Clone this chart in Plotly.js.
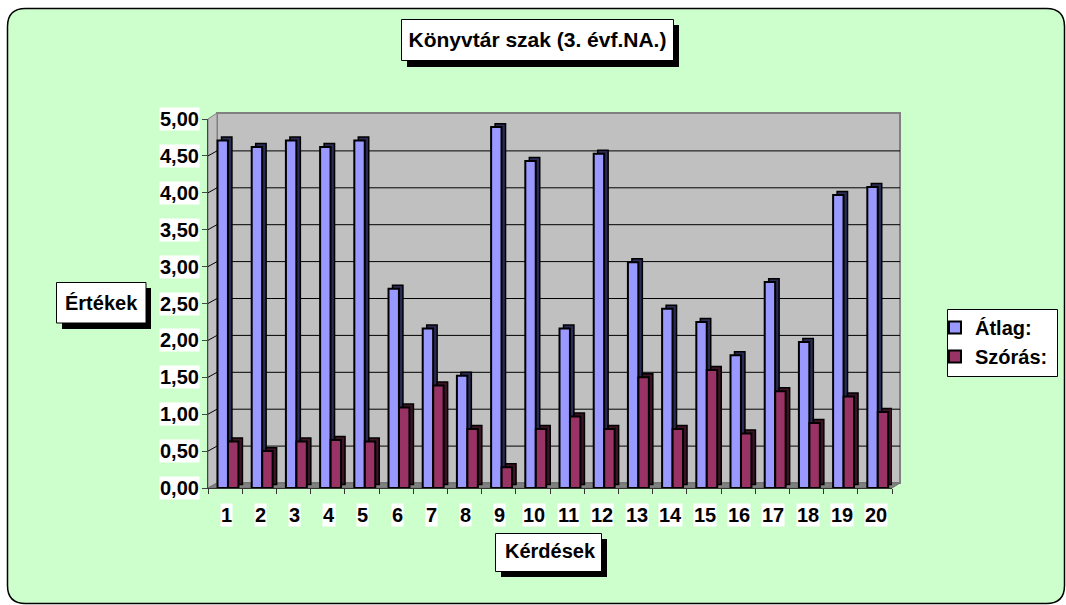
<!DOCTYPE html>
<html>
<head>
<meta charset="utf-8">
<script src="https://cdn.plot.ly/plotly-3.0.1.min.js"></script>
<style>html,body{margin:0;padding:0;background:#fff;}#chart{width:1066px;height:605px;}</style>
</head>
<body>
<div id="chart"></div>
<script>
// ---- data ----
const categories = ['1','2','3','4','5','6','7','8','9','10','11','12','13','14','15','16','17','18','19','20'];
const atlag  = [4.71,4.62,4.71,4.62,4.71,2.70,2.16,1.52,4.89,4.43,2.16,4.53,3.06,2.43,2.25,1.80,2.79,1.98,3.97,4.08];
const szoras = [0.63,0.50,0.63,0.65,0.63,1.09,1.39,0.80,0.28,0.80,0.97,0.80,1.50,0.80,1.60,0.74,1.31,0.88,1.24,1.03];
const yTickVals = [0,0.5,1,1.5,2,2.5,3,3.5,4,4.5,5];
const yTickText = ['0,00','0,50','1,00','1,50','2,00','2,50','3,00','3,50','4,00','4,50','5,00'];
const seriesNames = ['Átlag:','Szórás:'];
const chartTitle = 'Könyvtár szak (3. évf.NA.)';
const xTitle = 'Kérdések';
const yTitle = 'Értékek';

// ---- geometry helpers (pixel -> paper) ----
const PL = 208, PR = 892, PT = 119, PB = 488;
const W = PR - PL, H = PB - PT;
const px = x => (x - PL) / W;
const py = y => (PB - y) / H;
const FONT = {family: 'Arial, Liberation Sans, sans-serif', size: 20, color: '#000'};
const B = t => '<b>' + t + '</b>';

function rect(x0, y0, x1, y1, fill, line, lw, layer) {
  return {type: 'rect', xref: 'paper', yref: 'paper', x0: px(x0), x1: px(x1), y0: py(y1), y1: py(y0),
          fillcolor: fill, line: {color: line, width: lw}, layer: layer || 'below'};
}
function poly(pts, fill, line, lw) {
  const d = pts.map((p, i) => (i ? 'L' : 'M') + px(p[0]) + ',' + py(p[1])).join(' ') + ' Z';
  return {type: 'path', xref: 'paper', yref: 'paper', path: d, fillcolor: fill, line: {color: line, width: lw}, layer: 'below'};
}
function roundRect(x0, y0, x1, y1, r) {
  const P = (x, y) => px(x) + ',' + py(y);
  return 'M' + P(x0 + r, y0) + ' L' + P(x1 - r, y0) + ' Q' + P(x1, y0) + ' ' + P(x1, y0 + r) +
         ' L' + P(x1, y1 - r) + ' Q' + P(x1, y1) + ' ' + P(x1 - r, y1) +
         ' L' + P(x0 + r, y1) + ' Q' + P(x0, y1) + ' ' + P(x0, y1 - r) +
         ' L' + P(x0, y0 + r) + ' Q' + P(x0, y0) + ' ' + P(x0 + r, y0) + ' Z';
}

const shapes = [];
// chart area background with rounded border
shapes.push({type: 'path', xref: 'paper', yref: 'paper', path: roundRect(7.5, 8.5, 1064.5, 603.5, 18),
             fillcolor: '#CCFFCC', line: {color: '#000', width: 1.5}, layer: 'below'});
// back wall, side wall, floor
shapes.push(rect(217, 113, 900, 483, '#C0C0C0', '#808080', 2));
shapes.push(poly([[208, 488], [208, 119], [217, 113], [217, 483]], '#C0C0C0', '#808080', 1));
shapes.push(poly([[208, 488], [892, 488], [900, 483], [217, 483]], '#808080', '#707070', 1));
// gridlines on the back wall and the side wall
yTickVals.forEach(v => {
  if (v <= 0 || v >= 5) return;
  shapes.push({type: 'line', xref: 'paper', x0: px(217), x1: px(900), yref: 'y', ysizemode: 'pixel', yanchor: v,
               y0: 5, y1: 5, line: {color: '#000', width: 1}, layer: 'below'});
  shapes.push({type: 'line', xref: 'paper', x0: px(208), x1: px(217), yref: 'y', ysizemode: 'pixel', yanchor: v,
               y0: 0, y1: 5, line: {color: '#000', width: 1}, layer: 'below'});
});
// title boxes with drop shadows
shapes.push(rect(407, 25, 679, 67, '#000', '#000', 0));
shapes.push(rect(401.5, 19.5, 673.5, 60.5, '#FFFFFF', '#000', 1));
shapes.push(rect(62, 288, 151, 329, '#000', '#000', 0));
shapes.push(rect(56.5, 282.5, 146, 323, '#FFFFFF', '#000', 1));
shapes.push(rect(501, 539, 607, 577, '#000', '#000', 0));
shapes.push(rect(495.5, 533.5, 601.5, 571.5, '#FFFFFF', '#000', 1));
// legend box
shapes.push(rect(947.5, 309.5, 1057.5, 376.5, '#FFFFFF', '#000', 1));

// ---- annotations: tick labels with white boxes, y title ----
const annotations = [];
yTickVals.forEach((v, i) => {
  annotations.push({xref: 'paper', x: px(200), xanchor: 'right', yref: 'y', y: v, yanchor: 'middle',
                    text: B(yTickText[i]), showarrow: false, bgcolor: '#FFFFFF', borderpad: 0, font: FONT});
});
categories.forEach((c, i) => {
  annotations.push({xref: 'x', x: i, xanchor: 'center', xshift: 1, yref: 'paper', y: py(515), yanchor: 'middle',
                    text: B(c), showarrow: false, bgcolor: '#FFFFFF', borderpad: 0, font: FONT});
});
annotations.push({xref: 'paper', x: px(101.3), xanchor: 'center', yref: 'paper', y: py(303), yanchor: 'middle',
                  text: B(yTitle), showarrow: false, font: FONT});

// ---- bars: front faces plus dark depth faces ----
const bw = 0.305;           // bar width (category units)
const offB = -0.222, offR = 0.085;
const dX = 0.117, dY = 0.047; // 3D depth shift
const traces = [
  {type: 'bar', x: categories, y: atlag, base: dY, offset: offB + dX, width: bw,
   marker: {color: '#2b2b55', line: {color: '#000', width: 1.5}}, showlegend: false, hoverinfo: 'skip'},
  {type: 'bar', x: categories, y: atlag, offset: offB, width: bw, name: B(seriesNames[0]), legendgroup: 'a',
   marker: {color: '#9999FF', line: {color: '#000', width: 2}}},
  {type: 'bar', x: categories, y: szoras, base: dY, offset: offR + dX, width: bw,
   marker: {color: '#3d1426', line: {color: '#000', width: 1.5}}, showlegend: false, hoverinfo: 'skip'},
  {type: 'bar', x: categories, y: szoras, offset: offR, width: bw, name: B(seriesNames[1]), legendgroup: 'b',
   marker: {color: '#993366', line: {color: '#000', width: 2}}}
];

const layout = {
  width: 1066, height: 605,
  margin: {l: PL, r: 1066 - PR, t: PT, b: 605 - PB, pad: 0},
  paper_bgcolor: '#FFFFFF', plot_bgcolor: 'rgba(0,0,0,0)',
  barmode: 'overlay',
  font: FONT,
  title: {text: B(chartTitle), font: Object.assign({}, FONT, {size: 21}), xref: 'container', yref: 'container',
          x: 537.5 / 1066, xanchor: 'center', y: 1 - 40 / 605, yanchor: 'middle'},
  xaxis: {type: 'category', range: [-0.5, 19.5], showline: true, linecolor: '#333', linewidth: 1,
          ticks: 'outside', ticklen: 5, tickcolor: '#333', tickson: 'boundaries', showgrid: false,
          showticklabels: false, zeroline: false, fixedrange: true,
          title: {text: B(xTitle), font: FONT, standoff: 55}},
  yaxis: {range: [0, 5], tickvals: yTickVals, showline: true, linecolor: '#444', linewidth: 1,
          ticks: 'outside', ticklen: 5, tickcolor: '#444', showgrid: false, showticklabels: false,
          zeroline: false, fixedrange: true},
  showlegend: true,
  legend: {x: px(935), xanchor: 'left', y: py(308), yanchor: 'top', bgcolor: 'rgba(0,0,0,0)', borderwidth: 0,
           font: FONT, traceorder: 'grouped', tracegroupgap: 0},
  shapes: shapes,
  annotations: annotations
};

Plotly.newPlot('chart', traces, layout, {displayModeBar: false, staticPlot: true});
</script>
</body>
</html>
